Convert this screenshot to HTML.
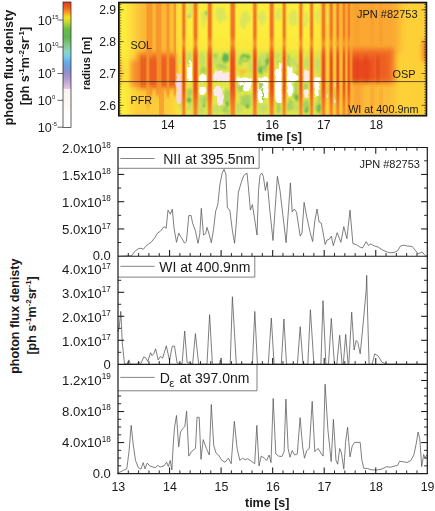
<!DOCTYPE html>
<html><head><meta charset="utf-8"><title>JPN #82753 photon flux density</title>
<style>
html,body{margin:0;padding:0;background:#fff;}
body{width:435px;height:511px;overflow:hidden;}
svg{display:block;font-family:"Liberation Sans",sans-serif;fill:#1a1a1a;}
</style></head><body>
<svg width="435" height="511" viewBox="0 0 435 511">
<rect x="0" y="0" width="435" height="511" fill="#ffffff"/>
<defs>
<clipPath id="hc"><rect x="118.85" y="2.55" width="307.6" height="113.15"/></clipPath>
<filter id="b1" x="-50%" y="-50%" width="200%" height="200%"><feGaussianBlur stdDeviation="0.7 2.2"/></filter>
<filter id="b2" x="-50%" y="-50%" width="200%" height="200%"><feGaussianBlur stdDeviation="2.5"/></filter>
<filter id="b3" x="-50%" y="-50%" width="200%" height="200%"><feGaussianBlur stdDeviation="1.1"/></filter>
<filter id="b4" x="-50%" y="-50%" width="200%" height="200%"><feGaussianBlur stdDeviation="4"/></filter>
<filter id="b6" x="-50%" y="-50%" width="200%" height="200%"><feGaussianBlur stdDeviation="0.75 2.5"/></filter>
<filter id="rw" x="-20%" y="-20%" width="140%" height="140%"><feTurbulence type="fractalNoise" baseFrequency="0.22 0.16" numOctaves="2" seed="7" result="n"/><feDisplacementMap in="SourceGraphic" in2="n" scale="5" xChannelSelector="R" yChannelSelector="G"/><feGaussianBlur stdDeviation="0.45"/></filter>
<filter id="rg" x="-20%" y="-20%" width="140%" height="140%"><feTurbulence type="fractalNoise" baseFrequency="0.2 0.14" numOctaves="2" seed="3" result="n"/><feDisplacementMap in="SourceGraphic" in2="n" scale="7" xChannelSelector="R" yChannelSelector="G"/><feGaussianBlur stdDeviation="0.9"/></filter>
<filter id="b5" x="-50%" y="-50%" width="200%" height="200%"><feGaussianBlur stdDeviation="0.6"/></filter>
<linearGradient id="sg" gradientUnits="userSpaceOnUse" x1="0" y1="2" x2="0" y2="116">
<stop offset="0" stop-color="#f07826"/><stop offset="0.31" stop-color="#ee7224"/><stop offset="0.36" stop-color="#f6982c"/><stop offset="0.42" stop-color="#ee6a22"/><stop offset="0.5" stop-color="#e8501e"/><stop offset="0.76" stop-color="#e8501e"/><stop offset="0.88" stop-color="#f07426"/><stop offset="1" stop-color="#f48a2a"/>
</linearGradient>
<linearGradient id="sg2" gradientUnits="userSpaceOnUse" x1="0" y1="2" x2="0" y2="116">
<stop offset="0" stop-color="#f48a2a"/><stop offset="0.31" stop-color="#f38428"/><stop offset="0.36" stop-color="#f9ac34"/><stop offset="0.43" stop-color="#f27c28"/><stop offset="0.78" stop-color="#f17626"/><stop offset="0.9" stop-color="#f58c2a"/><stop offset="1" stop-color="#f7982e"/>
</linearGradient>
<linearGradient id="cb" x1="0" y1="0" x2="0" y2="1">
<stop offset="0.0000" stop-color="#e03a1c"/><stop offset="0.0464" stop-color="#ee6420"/><stop offset="0.0886" stop-color="#f9a624"/><stop offset="0.1203" stop-color="#f8e020"/><stop offset="0.1624" stop-color="#c0d838"/><stop offset="0.2152" stop-color="#6cbc44"/><stop offset="0.2785" stop-color="#5cb650"/><stop offset="0.3418" stop-color="#84c888"/><stop offset="0.3945" stop-color="#8cd4c4"/><stop offset="0.4367" stop-color="#78cce8"/><stop offset="0.4789" stop-color="#62aee6"/><stop offset="0.5316" stop-color="#7a94d4"/><stop offset="0.5844" stop-color="#a090cc"/><stop offset="0.6371" stop-color="#c4a8d8"/><stop offset="0.6878" stop-color="#e4c4e0"/><stop offset="0.6962" stop-color="#fbf2ee"/><stop offset="0.8270" stop-color="#fdf8f6"/><stop offset="0.8903" stop-color="#ffffff"/><stop offset="1.0000" stop-color="#ffffff"/>
</linearGradient>
</defs>
<g clip-path="url(#hc)">
<rect x="118.85" y="2.55" width="307.6" height="113.15" fill="#fdee3e"/>
<g filter="url(#b4)">
<rect x="130" y="-8" width="12" height="134" fill="#fcd03a"/>
<rect x="139" y="-8" width="37" height="100" fill="#fbb634"/>
<rect x="137" y="92" width="39" height="34" fill="#fccc3a"/>
<rect x="322" y="-8" width="30" height="134" fill="#fcc838" opacity="0.75"/>
<rect x="340" y="-8" width="60" height="62" fill="#faa832"/>
<rect x="344" y="50" width="54" height="80" fill="#fcbe38"/>
<rect x="400" y="-8" width="32" height="134" fill="#fdd038"/>
<rect x="112" y="60" width="8" height="24" fill="#f58a28"/>
<rect x="178" y="41" width="165" height="4.5" fill="#fdd23a" opacity="0.4"/>
</g>
<g filter="url(#b2)">
<rect x="131" y="60" width="12" height="27" fill="#f59030"/>
<rect x="138" y="53" width="38" height="35" fill="#f17c28"/>
<rect x="350.5" y="48" width="44" height="35" fill="#f37428"/>
<rect x="351" y="53" width="38" height="29" fill="#ee6022"/>
<rect x="351.5" y="59" width="21" height="22" fill="#e8481e"/>
<rect x="353" y="84" width="10" height="24" fill="#f8a030" opacity="0.8"/>
<rect x="370" y="84" width="5" height="22" fill="#f9aa32" opacity="0.7"/>
<rect x="423.5" y="41" width="4" height="20" fill="#ea4e1e"/>
</g>
<g filter="url(#b1)">
<rect x="146.4" y="-4" width="6" height="100" fill="#f6922c" opacity="0.85"/>
<rect x="155.85" y="-4" width="5.5" height="100" fill="#f6922c" opacity="0.85"/>
<rect x="166.4" y="-4" width="3" height="100" fill="#f6922c" opacity="0.85"/>
<rect x="173.60000000000002" y="-4" width="2.4" height="100" fill="#f6922c" opacity="0.85"/>
<rect x="159" y="88" width="5" height="34" fill="#f79a2e" opacity="0.8"/>
<rect x="146" y="88" width="4" height="20" fill="#f9a832" opacity="0.6"/>
<rect x="140.5" y="57" width="5.7" height="29" fill="#ea6022"/>
<rect x="149.4" y="57" width="7.2" height="29" fill="#ea6022"/>
<rect x="161.5" y="57" width="4.8" height="29" fill="#ea6022"/>
<rect x="169.5" y="57" width="5.7" height="29" fill="#ea6022"/>
<rect x="354.5" y="-4" width="5" height="48" fill="#f79a2e" opacity="0.5"/>
<rect x="354.5" y="88" width="5" height="34" fill="#f8a030" opacity="0.45"/>
<rect x="370.25" y="-4" width="3.5" height="48" fill="#f79a2e" opacity="0.5"/>
<rect x="370.25" y="88" width="3.5" height="34" fill="#f8a030" opacity="0.45"/>
<rect x="379.0" y="-4" width="4" height="48" fill="#f79a2e" opacity="0.5"/>
<rect x="379.0" y="88" width="4" height="34" fill="#f8a030" opacity="0.45"/>
<rect x="353.0" y="56" width="6" height="25" fill="#e6461c" opacity="0.55"/>
<rect x="363.5" y="56" width="5" height="25" fill="#e6461c" opacity="0.55"/>
<rect x="376.0" y="56" width="4" height="25" fill="#e6461c" opacity="0.55"/>
</g>
<rect x="186" y="50" width="137" height="70" fill="#b4da5c" opacity="0.38" filter="url(#b2)"/>
<g filter="url(#rg)">
<ellipse cx="189.5" cy="58" rx="2.5" ry="6" fill="#c4de66"/>
<ellipse cx="190" cy="92" rx="3" ry="5" fill="#a6d25e"/>
<ellipse cx="189" cy="106" rx="3" ry="6" fill="#c4de66"/>
<ellipse cx="190.5" cy="17" rx="1.2" ry="3" fill="#62c0a0"/>
<ellipse cx="190" cy="10" rx="2.5" ry="6" fill="#dbe65a"/>
<ellipse cx="202" cy="60" rx="3.5" ry="8" fill="#c4de66"/>
<ellipse cx="203" cy="70" rx="3" ry="3" fill="#a6d25e"/>
<ellipse cx="204" cy="100" rx="3.5" ry="5" fill="#a6d25e"/>
<ellipse cx="201" cy="110" rx="3" ry="4" fill="#c4de66"/>
<ellipse cx="203" cy="20" rx="3" ry="9" fill="#dbe65a"/>
<ellipse cx="206.5" cy="14" rx="1.5" ry="2" fill="#7cc65c"/>
<ellipse cx="217" cy="62" rx="3.5" ry="6" fill="#c4de66"/>
<ellipse cx="225.5" cy="59" rx="2.8" ry="4.8" fill="#58b552"/>
<ellipse cx="222" cy="67" rx="5" ry="3" fill="#a6d25e"/>
<ellipse cx="227" cy="96" rx="3.5" ry="7" fill="#a6d25e"/>
<ellipse cx="217" cy="109" rx="4" ry="4.5" fill="#c4de66"/>
<ellipse cx="226" cy="109" rx="3.5" ry="4" fill="#a6d25e"/>
<ellipse cx="221" cy="15" rx="5" ry="8" fill="#dbe65a"/>
<ellipse cx="225" cy="54.5" rx="3" ry="2" fill="#58b552"/>
<ellipse cx="245.5" cy="57.5" rx="4.5" ry="4" fill="#58b552"/>
<ellipse cx="245.5" cy="58.5" rx="2.2" ry="1.8" fill="#e8e84c"/>
<ellipse cx="243" cy="71" rx="3.7" ry="2.8" fill="#fbc030"/>
<ellipse cx="240" cy="88" rx="3" ry="5" fill="#a6d25e"/>
<ellipse cx="246" cy="100" rx="5" ry="6" fill="#a6d25e"/>
<ellipse cx="239" cy="108" rx="3" ry="5" fill="#c4de66"/>
<ellipse cx="250" cy="66" rx="2.5" ry="6" fill="#c4de66"/>
<ellipse cx="245" cy="20" rx="5" ry="9" fill="#dbe65a"/>
<ellipse cx="262" cy="60" rx="4.5" ry="6" fill="#c4de66"/>
<ellipse cx="265" cy="68" rx="3" ry="4" fill="#a6d25e"/>
<ellipse cx="260" cy="70" rx="2" ry="5" fill="#58b552"/>
<ellipse cx="262" cy="90" rx="3" ry="4.5" fill="#a6d25e"/>
<ellipse cx="263" cy="108" rx="5" ry="5" fill="#c4de66"/>
<ellipse cx="262" cy="18" rx="4" ry="8" fill="#dbe65a"/>
<ellipse cx="277" cy="58" rx="2.5" ry="5" fill="#c4de66"/>
<ellipse cx="278.5" cy="108" rx="3" ry="5" fill="#a6d25e"/>
<ellipse cx="278" cy="15" rx="3" ry="7" fill="#dbe65a"/>
<ellipse cx="294" cy="62" rx="4" ry="5" fill="#c4de66"/>
<ellipse cx="296" cy="90" rx="3" ry="7" fill="#a6d25e"/>
<ellipse cx="290" cy="104" rx="3.5" ry="7" fill="#a6d25e"/>
<ellipse cx="296" cy="107" rx="3" ry="5" fill="#c4de66"/>
<ellipse cx="293" cy="18" rx="4.5" ry="8" fill="#dbe65a"/>
<ellipse cx="306.5" cy="62" rx="2.8" ry="6" fill="#c4de66"/>
<ellipse cx="306" cy="85" rx="2.5" ry="3.5" fill="#a6d25e"/>
<ellipse cx="306" cy="106" rx="3" ry="6" fill="#a6d25e"/>
<ellipse cx="306" cy="20" rx="2.5" ry="8" fill="#dbe65a"/>
<ellipse cx="317.5" cy="66" rx="3" ry="8" fill="#c4de66"/>
<ellipse cx="319.5" cy="100" rx="2" ry="9" fill="#a6d25e"/>
<ellipse cx="316" cy="106" rx="2.2" ry="5" fill="#c4de66"/>
<ellipse cx="317.5" cy="16" rx="2.5" ry="8" fill="#dbe65a"/>
<ellipse cx="327" cy="92" rx="0.9" ry="12" fill="#a6d25e"/>
<ellipse cx="335" cy="95" rx="0.9" ry="14" fill="#a6d25e"/>
<ellipse cx="327.5" cy="18" rx="1.2" ry="9" fill="#dbe65a"/>
<ellipse cx="181" cy="106" rx="1.8" ry="6" fill="#c4de66"/>
<ellipse cx="180" cy="60" rx="1.6" ry="6" fill="#c4de66"/>
<ellipse cx="189" cy="100" rx="2.5" ry="3" fill="#58b552"/>
<ellipse cx="203.5" cy="106" rx="2" ry="2.5" fill="#58b552"/>
<ellipse cx="227.5" cy="103" rx="1.8" ry="3" fill="#58b552"/>
<ellipse cx="247.5" cy="106" rx="2" ry="2.5" fill="#58b552"/>
<ellipse cx="263" cy="96" rx="1.5" ry="3" fill="#58b552"/>
<ellipse cx="279" cy="64" rx="1.5" ry="3" fill="#a6d25e"/>
<ellipse cx="297" cy="98" rx="1.5" ry="4" fill="#58b552"/>
<ellipse cx="306" cy="110" rx="1.6" ry="2.5" fill="#58b552"/>
<ellipse cx="319.5" cy="108" rx="1.2" ry="4" fill="#58b552"/>
<ellipse cx="216" cy="55" rx="3" ry="3" fill="#a6d25e"/>
<ellipse cx="240" cy="62" rx="2.5" ry="4" fill="#a6d25e"/>
<ellipse cx="252" cy="100" rx="2" ry="8" fill="#c4de66"/>
<ellipse cx="199.5" cy="100" rx="1.5" ry="6" fill="#c4de66"/>
<ellipse cx="288.5" cy="60" rx="1.8" ry="5" fill="#a6d25e"/>
<ellipse cx="298" cy="70" rx="1.5" ry="5" fill="#a6d25e"/>
<ellipse cx="258.5" cy="64" rx="1.5" ry="7" fill="#a6d25e"/>
<ellipse cx="268" cy="62" rx="1.2" ry="8" fill="#58b552"/>
</g>
<g filter="url(#rw)">
<rect x="176.5" y="73" width="5.1" height="30.0" rx="1.8" fill="#f4d6e6"/>
<rect x="187.2" y="66" width="5.1" height="15.4" rx="1.8" fill="#ffffff"/>
<rect x="189.3" y="60" width="2.0" height="8.0" rx="0.7" fill="#ffffff"/>
<rect x="199" y="75" width="8.0" height="6.4" rx="2.2" fill="#ffffff"/>
<rect x="199.2" y="86.8" width="6.6" height="7.2" rx="2.3" fill="#ffffff"/>
<rect x="212.9" y="72.5" width="17.1" height="8.9" rx="3.1" fill="#faeaf0"/>
<rect x="215" y="70.5" width="7.0" height="3.5" rx="1.2" fill="#faeaf0"/>
<rect x="213.7" y="86" width="8.8" height="10.0" rx="3.1" fill="#faeaf0"/>
<rect x="217" y="94" width="6.8" height="11.0" rx="2.4" fill="#faeaf0"/>
<rect x="236.7" y="77.6" width="16.1" height="3.8" rx="1.3" fill="#ffffff"/>
<rect x="243" y="81.8" width="7.5" height="10.2" rx="2.6" fill="#ffffff"/>
<rect x="238.5" y="81.8" width="4.5" height="4.2" rx="1.5" fill="#ffffff"/>
<rect x="258.3" y="77.6" width="11.0" height="3.8" rx="1.3" fill="#ffffff"/>
<rect x="257.6" y="81.8" width="10.8" height="6.2" rx="2.2" fill="#ffffff"/>
<rect x="257.6" y="88" width="4.4" height="15.0" rx="1.5" fill="#ffffff"/>
<rect x="264" y="88" width="4.4" height="10.0" rx="1.5" fill="#ffffff"/>
<rect x="274.8" y="70" width="7.8" height="11.4" rx="2.7" fill="#ffffff"/>
<rect x="278.8" y="62.5" width="3.6" height="8.5" rx="1.3" fill="#ffffff"/>
<rect x="274.8" y="81.8" width="7.4" height="21.2" rx="2.6" fill="#ffffff"/>
<rect x="286.8" y="74" width="11.9" height="7.4" rx="2.6" fill="#ffffff"/>
<rect x="287.2" y="66.5" width="5.3" height="8.5" rx="1.9" fill="#ffffff"/>
<rect x="286.8" y="81.8" width="6.4" height="14.2" rx="2.2" fill="#ffffff"/>
<rect x="303.3" y="71" width="6.5" height="10.4" rx="2.3" fill="#faeaf0"/>
<rect x="303.3" y="89.5" width="5.5" height="8.3" rx="1.9" fill="#faeaf0"/>
<rect x="313.6" y="77.6" width="8.0" height="3.8" rx="1.3" fill="#ffffff"/>
<rect x="313.6" y="81.8" width="5.8" height="12.2" rx="2.0" fill="#ffffff"/>
<rect x="315" y="94" width="3.0" height="3.0" rx="1.0" fill="#ffffff"/>
<rect x="334.2" y="81" width="3.2" height="6.0" rx="1.1" fill="#faeaf0"/>
<rect x="325.8" y="94" width="1.6" height="4.0" rx="0.6" fill="#faeaf0"/>
<rect x="335" y="99.6" width="2.4" height="3.4" rx="0.8" fill="#faeaf0"/>
<ellipse cx="260.5" cy="86" rx="1.8" ry="3.8" fill="#a6d25e"/>
</g>
<g filter="url(#b6)" opacity="0.55">
<path d="M181.10,-6.0 L181.10,38.0 L181.32,42.5 L181.32,45.0 L180.90,54.0 L180.90,96.0 L181.10,110.0 L181.10,124.0 L186.50,124.0 L186.50,110.0 L186.70,96.0 L186.70,54.0 L186.28,45.0 L186.28,42.5 L186.50,38.0 L186.50,-6.0Z" fill="#f9b030"/>
<path d="M192.45,-6.0 L192.45,38.0 L192.73,42.5 L192.73,45.0 L191.95,54.0 L191.95,96.0 L192.45,110.0 L192.45,124.0 L198.55,124.0 L198.55,110.0 L199.05,96.0 L199.05,54.0 L198.27,45.0 L198.27,42.5 L198.55,38.0 L198.55,-6.0Z" fill="#f9b030"/>
<path d="M206.75,-6.0 L206.75,38.0 L207.03,42.5 L207.03,45.0 L206.25,54.0 L206.25,96.0 L206.75,110.0 L206.75,124.0 L212.85,124.0 L212.85,110.0 L213.35,96.0 L213.35,54.0 L212.57,45.0 L212.57,42.5 L212.85,38.0 L212.85,-6.0Z" fill="#f9b030"/>
<path d="M229.35,-6.0 L229.35,38.0 L229.68,42.5 L229.68,45.0 L228.85,54.0 L228.85,96.0 L229.35,110.0 L229.35,124.0 L236.05,124.0 L236.05,110.0 L236.55,96.0 L236.55,54.0 L235.72,45.0 L235.72,42.5 L236.05,38.0 L236.05,-6.0Z" fill="#f9b030"/>
<path d="M252.10,-6.0 L252.10,38.0 L252.34,42.5 L252.34,45.0 L251.70,54.0 L251.70,96.0 L252.10,110.0 L252.10,124.0 L257.70,124.0 L257.70,110.0 L258.10,96.0 L258.10,54.0 L257.46,45.0 L257.46,42.5 L257.70,38.0 L257.70,-6.0Z" fill="#f9b030"/>
<path d="M268.65,-6.0 L268.65,38.0 L268.93,42.5 L268.93,45.0 L268.25,54.0 L268.25,96.0 L268.65,110.0 L268.65,124.0 L274.75,124.0 L274.75,110.0 L275.15,96.0 L275.15,54.0 L274.47,45.0 L274.47,42.5 L274.75,38.0 L274.75,-6.0Z" fill="#f9b030"/>
<path d="M281.60,-6.0 L281.60,38.0 L281.81,42.5 L281.81,45.0 L281.30,54.0 L281.30,96.0 L281.60,110.0 L281.60,124.0 L286.80,124.0 L286.80,110.0 L287.10,96.0 L287.10,54.0 L286.59,45.0 L286.59,42.5 L286.80,38.0 L286.80,-6.0Z" fill="#f9b030"/>
<path d="M298.30,-6.0 L298.30,38.0 L298.51,42.5 L298.51,45.0 L298.00,54.0 L298.00,96.0 L298.30,110.0 L298.30,124.0 L303.50,124.0 L303.50,110.0 L303.80,96.0 L303.80,54.0 L303.29,45.0 L303.29,42.5 L303.50,38.0 L303.50,-6.0Z" fill="#f9b030"/>
<path d="M309.00,-6.0 L309.00,38.0 L309.21,42.5 L309.21,45.0 L308.80,54.0 L308.80,96.0 L309.00,110.0 L309.00,124.0 L314.20,124.0 L314.20,110.0 L314.40,96.0 L314.40,54.0 L313.99,45.0 L313.99,42.5 L314.20,38.0 L314.20,-6.0Z" fill="#f9b030"/>
<path d="M320.60,-6.0 L320.60,38.0 L320.86,42.5 L320.86,45.0 L320.25,54.0 L320.25,96.0 L320.60,110.0 L320.60,124.0 L326.40,124.0 L326.40,110.0 L326.75,96.0 L326.75,54.0 L326.14,45.0 L326.14,42.5 L326.40,38.0 L326.40,-6.0Z" fill="#f9b030"/>
<path d="M328.45,-6.0 L328.45,38.0 L328.68,42.5 L328.68,45.0 L328.20,54.0 L328.20,96.0 L328.45,110.0 L328.45,124.0 L333.95,124.0 L333.95,110.0 L334.20,96.0 L334.20,54.0 L333.72,45.0 L333.72,42.5 L333.95,38.0 L333.95,-6.0Z" fill="#f9b030"/>
<path d="M335.10,-6.0 L335.10,38.0 L335.32,42.5 L335.32,45.0 L334.90,54.0 L334.90,96.0 L335.10,110.0 L335.10,124.0 L340.50,124.0 L340.50,110.0 L340.70,96.0 L340.70,54.0 L340.28,45.0 L340.28,42.5 L340.50,38.0 L340.50,-6.0Z" fill="#f9b030"/>
<path d="M341.45,-6.0 L341.45,38.0 L341.65,42.5 L341.65,45.0 L341.25,54.0 L341.25,96.0 L341.45,110.0 L341.45,124.0 L346.55,124.0 L346.55,110.0 L346.75,96.0 L346.75,54.0 L346.35,45.0 L346.35,42.5 L346.55,38.0 L346.55,-6.0Z" fill="#f9b030"/>
<path d="M346.35,-6.0 L346.35,38.0 L346.55,42.5 L346.55,45.0 L346.15,54.0 L346.15,96.0 L346.35,110.0 L346.35,124.0 L351.45,124.0 L351.45,110.0 L351.65,96.0 L351.65,54.0 L351.25,45.0 L351.25,42.5 L351.45,38.0 L351.45,-6.0Z" fill="#f9b030"/>
</g>
<g filter="url(#b6)">
<path d="M182.30,-6.0 L182.30,38.0 L182.52,42.5 L182.52,45.0 L182.10,54.0 L182.10,96.0 L182.30,110.0 L182.30,124.0 L185.30,124.0 L185.30,110.0 L185.50,96.0 L185.50,54.0 L185.08,45.0 L185.08,42.5 L185.30,38.0 L185.30,-6.0Z" fill="url(#sg2)"/>
<path d="M193.65,-6.0 L193.65,38.0 L193.93,42.5 L193.93,45.0 L193.15,54.0 L193.15,96.0 L193.65,110.0 L193.65,124.0 L197.35,124.0 L197.35,110.0 L197.85,96.0 L197.85,54.0 L197.07,45.0 L197.07,42.5 L197.35,38.0 L197.35,-6.0Z" fill="url(#sg2)"/>
<path d="M207.95,-6.0 L207.95,38.0 L208.23,42.5 L208.23,45.0 L207.45,54.0 L207.45,96.0 L207.95,110.0 L207.95,124.0 L211.65,124.0 L211.65,110.0 L212.15,96.0 L212.15,54.0 L211.37,45.0 L211.37,42.5 L211.65,38.0 L211.65,-6.0Z" fill="url(#sg2)"/>
<path d="M230.55,-6.0 L230.55,38.0 L230.88,42.5 L230.88,45.0 L230.05,54.0 L230.05,96.0 L230.55,110.0 L230.55,124.0 L234.85,124.0 L234.85,110.0 L235.35,96.0 L235.35,54.0 L234.52,45.0 L234.52,42.5 L234.85,38.0 L234.85,-6.0Z" fill="url(#sg2)"/>
<path d="M253.30,-6.0 L253.30,38.0 L253.54,42.5 L253.54,45.0 L252.90,54.0 L252.90,96.0 L253.30,110.0 L253.30,124.0 L256.50,124.0 L256.50,110.0 L256.90,96.0 L256.90,54.0 L256.26,45.0 L256.26,42.5 L256.50,38.0 L256.50,-6.0Z" fill="url(#sg2)"/>
<path d="M269.85,-6.0 L269.85,38.0 L270.13,42.5 L270.13,45.0 L269.45,54.0 L269.45,96.0 L269.85,110.0 L269.85,124.0 L273.55,124.0 L273.55,110.0 L273.95,96.0 L273.95,54.0 L273.27,45.0 L273.27,42.5 L273.55,38.0 L273.55,-6.0Z" fill="url(#sg2)"/>
<path d="M282.80,-6.0 L282.80,38.0 L283.01,42.5 L283.01,45.0 L282.50,54.0 L282.50,96.0 L282.80,110.0 L282.80,124.0 L285.60,124.0 L285.60,110.0 L285.90,96.0 L285.90,54.0 L285.39,45.0 L285.39,42.5 L285.60,38.0 L285.60,-6.0Z" fill="url(#sg2)"/>
<path d="M299.50,-6.0 L299.50,38.0 L299.71,42.5 L299.71,45.0 L299.20,54.0 L299.20,96.0 L299.50,110.0 L299.50,124.0 L302.30,124.0 L302.30,110.0 L302.60,96.0 L302.60,54.0 L302.09,45.0 L302.09,42.5 L302.30,38.0 L302.30,-6.0Z" fill="url(#sg2)"/>
<path d="M310.20,-6.0 L310.20,38.0 L310.41,42.5 L310.41,45.0 L310.00,54.0 L310.00,96.0 L310.20,110.0 L310.20,124.0 L313.00,124.0 L313.00,110.0 L313.20,96.0 L313.20,54.0 L312.79,45.0 L312.79,42.5 L313.00,38.0 L313.00,-6.0Z" fill="url(#sg2)"/>
<path d="M321.80,-6.0 L321.80,38.0 L322.06,42.5 L322.06,45.0 L321.45,54.0 L321.45,96.0 L321.80,110.0 L321.80,124.0 L325.20,124.0 L325.20,110.0 L325.55,96.0 L325.55,54.0 L324.94,45.0 L324.94,42.5 L325.20,38.0 L325.20,-6.0Z" fill="url(#sg2)"/>
<path d="M329.65,-6.0 L329.65,38.0 L329.88,42.5 L329.88,45.0 L329.40,54.0 L329.40,96.0 L329.65,110.0 L329.65,124.0 L332.75,124.0 L332.75,110.0 L333.00,96.0 L333.00,54.0 L332.52,45.0 L332.52,42.5 L332.75,38.0 L332.75,-6.0Z" fill="url(#sg2)"/>
<path d="M336.30,-6.0 L336.30,38.0 L336.52,42.5 L336.52,45.0 L336.10,54.0 L336.10,96.0 L336.30,110.0 L336.30,124.0 L339.30,124.0 L339.30,110.0 L339.50,96.0 L339.50,54.0 L339.08,45.0 L339.08,42.5 L339.30,38.0 L339.30,-6.0Z" fill="url(#sg2)"/>
<path d="M342.65,-6.0 L342.65,38.0 L342.85,42.5 L342.85,45.0 L342.45,54.0 L342.45,96.0 L342.65,110.0 L342.65,124.0 L345.35,124.0 L345.35,110.0 L345.55,96.0 L345.55,54.0 L345.15,45.0 L345.15,42.5 L345.35,38.0 L345.35,-6.0Z" fill="url(#sg2)"/>
<path d="M347.55,-6.0 L347.55,38.0 L347.75,42.5 L347.75,45.0 L347.35,54.0 L347.35,96.0 L347.55,110.0 L347.55,124.0 L350.25,124.0 L350.25,110.0 L350.45,96.0 L350.45,54.0 L350.05,45.0 L350.05,42.5 L350.25,38.0 L350.25,-6.0Z" fill="url(#sg2)"/>
</g>
<g filter="url(#b6)">
<path d="M183.20,-6.0 L183.20,38.0 L183.42,42.5 L183.42,45.0 L183.00,54.0 L183.00,96.0 L183.20,110.0 L183.20,124.0 L184.40,124.0 L184.40,110.0 L184.60,96.0 L184.60,54.0 L184.18,45.0 L184.18,42.5 L184.40,38.0 L184.40,-6.0Z" fill="url(#sg)"/>
<path d="M194.55,-6.0 L194.55,38.0 L194.83,42.5 L194.83,45.0 L194.05,54.0 L194.05,96.0 L194.55,110.0 L194.55,124.0 L196.45,124.0 L196.45,110.0 L196.95,96.0 L196.95,54.0 L196.17,45.0 L196.17,42.5 L196.45,38.0 L196.45,-6.0Z" fill="url(#sg)"/>
<path d="M208.85,-6.0 L208.85,38.0 L209.13,42.5 L209.13,45.0 L208.35,54.0 L208.35,96.0 L208.85,110.0 L208.85,124.0 L210.75,124.0 L210.75,110.0 L211.25,96.0 L211.25,54.0 L210.47,45.0 L210.47,42.5 L210.75,38.0 L210.75,-6.0Z" fill="url(#sg)"/>
<path d="M231.45,-6.0 L231.45,38.0 L231.78,42.5 L231.78,45.0 L230.95,54.0 L230.95,96.0 L231.45,110.0 L231.45,124.0 L233.95,124.0 L233.95,110.0 L234.45,96.0 L234.45,54.0 L233.62,45.0 L233.62,42.5 L233.95,38.0 L233.95,-6.0Z" fill="url(#sg)"/>
<path d="M254.20,-6.0 L254.20,38.0 L254.44,42.5 L254.44,45.0 L253.80,54.0 L253.80,96.0 L254.20,110.0 L254.20,124.0 L255.60,124.0 L255.60,110.0 L256.00,96.0 L256.00,54.0 L255.36,45.0 L255.36,42.5 L255.60,38.0 L255.60,-6.0Z" fill="url(#sg)"/>
<path d="M270.75,-6.0 L270.75,38.0 L271.03,42.5 L271.03,45.0 L270.35,54.0 L270.35,96.0 L270.75,110.0 L270.75,124.0 L272.65,124.0 L272.65,110.0 L273.05,96.0 L273.05,54.0 L272.37,45.0 L272.37,42.5 L272.65,38.0 L272.65,-6.0Z" fill="url(#sg)"/>
<path d="M283.70,-6.0 L283.70,38.0 L283.91,42.5 L283.91,45.0 L283.40,54.0 L283.40,96.0 L283.70,110.0 L283.70,124.0 L284.70,124.0 L284.70,110.0 L285.00,96.0 L285.00,54.0 L284.49,45.0 L284.49,42.5 L284.70,38.0 L284.70,-6.0Z" fill="url(#sg)"/>
<path d="M300.40,-6.0 L300.40,38.0 L300.61,42.5 L300.61,45.0 L300.10,54.0 L300.10,96.0 L300.40,110.0 L300.40,124.0 L301.40,124.0 L301.40,110.0 L301.70,96.0 L301.70,54.0 L301.19,45.0 L301.19,42.5 L301.40,38.0 L301.40,-6.0Z" fill="url(#sg)"/>
<path d="M311.10,-6.0 L311.10,38.0 L311.31,42.5 L311.31,45.0 L310.90,54.0 L310.90,96.0 L311.10,110.0 L311.10,124.0 L312.10,124.0 L312.10,110.0 L312.30,96.0 L312.30,54.0 L311.89,45.0 L311.89,42.5 L312.10,38.0 L312.10,-6.0Z" fill="url(#sg)"/>
<path d="M322.70,-6.0 L322.70,38.0 L322.96,42.5 L322.96,45.0 L322.35,54.0 L322.35,96.0 L322.70,110.0 L322.70,124.0 L324.30,124.0 L324.30,110.0 L324.65,96.0 L324.65,54.0 L324.04,45.0 L324.04,42.5 L324.30,38.0 L324.30,-6.0Z" fill="url(#sg)"/>
<path d="M330.55,-6.0 L330.55,38.0 L330.78,42.5 L330.78,45.0 L330.30,54.0 L330.30,96.0 L330.55,110.0 L330.55,124.0 L331.85,124.0 L331.85,110.0 L332.10,96.0 L332.10,54.0 L331.62,45.0 L331.62,42.5 L331.85,38.0 L331.85,-6.0Z" fill="url(#sg)"/>
<path d="M337.20,-6.0 L337.20,38.0 L337.42,42.5 L337.42,45.0 L337.00,54.0 L337.00,96.0 L337.20,110.0 L337.20,124.0 L338.40,124.0 L338.40,110.0 L338.60,96.0 L338.60,54.0 L338.18,45.0 L338.18,42.5 L338.40,38.0 L338.40,-6.0Z" fill="url(#sg)"/>
<path d="M343.55,-6.0 L343.55,38.0 L343.75,42.5 L343.75,45.0 L343.35,54.0 L343.35,96.0 L343.55,110.0 L343.55,124.0 L344.45,124.0 L344.45,110.0 L344.65,96.0 L344.65,54.0 L344.25,45.0 L344.25,42.5 L344.45,38.0 L344.45,-6.0Z" fill="url(#sg)"/>
<path d="M348.45,-6.0 L348.45,38.0 L348.65,42.5 L348.65,45.0 L348.25,54.0 L348.25,96.0 L348.45,110.0 L348.45,124.0 L349.35,124.0 L349.35,110.0 L349.55,96.0 L349.55,54.0 L349.15,45.0 L349.15,42.5 L349.35,38.0 L349.35,-6.0Z" fill="url(#sg)"/>
</g>
</g>
<line x1="118.85" y1="81.6" x2="426.45" y2="81.6" stroke="#3a2a10" stroke-width="0.8"/>
<rect x="118.85" y="2.55" width="307.6" height="113.15" fill="none" stroke="#141414" stroke-width="1.7"/>
<line x1="118.85" y1="9.8" x2="123.64999999999999" y2="9.8" stroke="#4a3a10" stroke-width="0.8"/>
<line x1="426.45" y1="9.8" x2="421.65" y2="9.8" stroke="#4a3a10" stroke-width="0.8"/>
<text x="116.1" y="14.200000000000001" font-size="12.2" text-anchor="end">2.9</text>
<line x1="118.85" y1="41.65" x2="123.64999999999999" y2="41.65" stroke="#4a3a10" stroke-width="0.8"/>
<line x1="426.45" y1="41.65" x2="421.65" y2="41.65" stroke="#4a3a10" stroke-width="0.8"/>
<text x="116.1" y="46.05" font-size="12.2" text-anchor="end">2.8</text>
<line x1="118.85" y1="73.5" x2="123.64999999999999" y2="73.5" stroke="#4a3a10" stroke-width="0.8"/>
<line x1="426.45" y1="73.5" x2="421.65" y2="73.5" stroke="#4a3a10" stroke-width="0.8"/>
<text x="116.1" y="77.9" font-size="12.2" text-anchor="end">2.7</text>
<line x1="118.85" y1="105.35" x2="123.64999999999999" y2="105.35" stroke="#4a3a10" stroke-width="0.8"/>
<line x1="426.45" y1="105.35" x2="421.65" y2="105.35" stroke="#4a3a10" stroke-width="0.8"/>
<text x="116.1" y="109.75" font-size="12.2" text-anchor="end">2.6</text>
<line x1="118.85" y1="113.31" x2="121.25" y2="113.31" stroke="#3a2a10" stroke-width="0.6"/>
<line x1="426.45" y1="113.31" x2="424.05" y2="113.31" stroke="#3a2a10" stroke-width="0.6"/>
<line x1="118.85" y1="110.66" x2="121.25" y2="110.66" stroke="#3a2a10" stroke-width="0.6"/>
<line x1="426.45" y1="110.66" x2="424.05" y2="110.66" stroke="#3a2a10" stroke-width="0.6"/>
<line x1="118.85" y1="108.00" x2="121.25" y2="108.00" stroke="#3a2a10" stroke-width="0.6"/>
<line x1="426.45" y1="108.00" x2="424.05" y2="108.00" stroke="#3a2a10" stroke-width="0.6"/>
<line x1="118.85" y1="105.35" x2="121.25" y2="105.35" stroke="#3a2a10" stroke-width="0.6"/>
<line x1="426.45" y1="105.35" x2="424.05" y2="105.35" stroke="#3a2a10" stroke-width="0.6"/>
<line x1="118.85" y1="102.70" x2="121.25" y2="102.70" stroke="#3a2a10" stroke-width="0.6"/>
<line x1="426.45" y1="102.70" x2="424.05" y2="102.70" stroke="#3a2a10" stroke-width="0.6"/>
<line x1="118.85" y1="100.04" x2="121.25" y2="100.04" stroke="#3a2a10" stroke-width="0.6"/>
<line x1="426.45" y1="100.04" x2="424.05" y2="100.04" stroke="#3a2a10" stroke-width="0.6"/>
<line x1="118.85" y1="97.39" x2="121.25" y2="97.39" stroke="#3a2a10" stroke-width="0.6"/>
<line x1="426.45" y1="97.39" x2="424.05" y2="97.39" stroke="#3a2a10" stroke-width="0.6"/>
<line x1="118.85" y1="94.73" x2="121.25" y2="94.73" stroke="#3a2a10" stroke-width="0.6"/>
<line x1="426.45" y1="94.73" x2="424.05" y2="94.73" stroke="#3a2a10" stroke-width="0.6"/>
<line x1="118.85" y1="92.08" x2="121.25" y2="92.08" stroke="#3a2a10" stroke-width="0.6"/>
<line x1="426.45" y1="92.08" x2="424.05" y2="92.08" stroke="#3a2a10" stroke-width="0.6"/>
<line x1="118.85" y1="89.43" x2="121.25" y2="89.43" stroke="#3a2a10" stroke-width="0.6"/>
<line x1="426.45" y1="89.43" x2="424.05" y2="89.43" stroke="#3a2a10" stroke-width="0.6"/>
<line x1="118.85" y1="86.77" x2="121.25" y2="86.77" stroke="#3a2a10" stroke-width="0.6"/>
<line x1="426.45" y1="86.77" x2="424.05" y2="86.77" stroke="#3a2a10" stroke-width="0.6"/>
<line x1="118.85" y1="84.12" x2="121.25" y2="84.12" stroke="#3a2a10" stroke-width="0.6"/>
<line x1="426.45" y1="84.12" x2="424.05" y2="84.12" stroke="#3a2a10" stroke-width="0.6"/>
<line x1="118.85" y1="81.46" x2="121.25" y2="81.46" stroke="#3a2a10" stroke-width="0.6"/>
<line x1="426.45" y1="81.46" x2="424.05" y2="81.46" stroke="#3a2a10" stroke-width="0.6"/>
<line x1="118.85" y1="78.81" x2="121.25" y2="78.81" stroke="#3a2a10" stroke-width="0.6"/>
<line x1="426.45" y1="78.81" x2="424.05" y2="78.81" stroke="#3a2a10" stroke-width="0.6"/>
<line x1="118.85" y1="76.16" x2="121.25" y2="76.16" stroke="#3a2a10" stroke-width="0.6"/>
<line x1="426.45" y1="76.16" x2="424.05" y2="76.16" stroke="#3a2a10" stroke-width="0.6"/>
<line x1="118.85" y1="73.50" x2="121.25" y2="73.50" stroke="#3a2a10" stroke-width="0.6"/>
<line x1="426.45" y1="73.50" x2="424.05" y2="73.50" stroke="#3a2a10" stroke-width="0.6"/>
<line x1="118.85" y1="70.85" x2="121.25" y2="70.85" stroke="#3a2a10" stroke-width="0.6"/>
<line x1="426.45" y1="70.85" x2="424.05" y2="70.85" stroke="#3a2a10" stroke-width="0.6"/>
<line x1="118.85" y1="68.19" x2="121.25" y2="68.19" stroke="#3a2a10" stroke-width="0.6"/>
<line x1="426.45" y1="68.19" x2="424.05" y2="68.19" stroke="#3a2a10" stroke-width="0.6"/>
<line x1="118.85" y1="65.54" x2="121.25" y2="65.54" stroke="#3a2a10" stroke-width="0.6"/>
<line x1="426.45" y1="65.54" x2="424.05" y2="65.54" stroke="#3a2a10" stroke-width="0.6"/>
<line x1="118.85" y1="62.89" x2="121.25" y2="62.89" stroke="#3a2a10" stroke-width="0.6"/>
<line x1="426.45" y1="62.89" x2="424.05" y2="62.89" stroke="#3a2a10" stroke-width="0.6"/>
<line x1="118.85" y1="60.23" x2="121.25" y2="60.23" stroke="#3a2a10" stroke-width="0.6"/>
<line x1="426.45" y1="60.23" x2="424.05" y2="60.23" stroke="#3a2a10" stroke-width="0.6"/>
<line x1="118.85" y1="57.58" x2="121.25" y2="57.58" stroke="#3a2a10" stroke-width="0.6"/>
<line x1="426.45" y1="57.58" x2="424.05" y2="57.58" stroke="#3a2a10" stroke-width="0.6"/>
<line x1="118.85" y1="54.92" x2="121.25" y2="54.92" stroke="#3a2a10" stroke-width="0.6"/>
<line x1="426.45" y1="54.92" x2="424.05" y2="54.92" stroke="#3a2a10" stroke-width="0.6"/>
<line x1="118.85" y1="52.27" x2="121.25" y2="52.27" stroke="#3a2a10" stroke-width="0.6"/>
<line x1="426.45" y1="52.27" x2="424.05" y2="52.27" stroke="#3a2a10" stroke-width="0.6"/>
<line x1="118.85" y1="49.62" x2="121.25" y2="49.62" stroke="#3a2a10" stroke-width="0.6"/>
<line x1="426.45" y1="49.62" x2="424.05" y2="49.62" stroke="#3a2a10" stroke-width="0.6"/>
<line x1="118.85" y1="46.96" x2="121.25" y2="46.96" stroke="#3a2a10" stroke-width="0.6"/>
<line x1="426.45" y1="46.96" x2="424.05" y2="46.96" stroke="#3a2a10" stroke-width="0.6"/>
<line x1="118.85" y1="44.31" x2="121.25" y2="44.31" stroke="#3a2a10" stroke-width="0.6"/>
<line x1="426.45" y1="44.31" x2="424.05" y2="44.31" stroke="#3a2a10" stroke-width="0.6"/>
<line x1="118.85" y1="41.65" x2="121.25" y2="41.65" stroke="#3a2a10" stroke-width="0.6"/>
<line x1="426.45" y1="41.65" x2="424.05" y2="41.65" stroke="#3a2a10" stroke-width="0.6"/>
<line x1="118.85" y1="39.00" x2="121.25" y2="39.00" stroke="#3a2a10" stroke-width="0.6"/>
<line x1="426.45" y1="39.00" x2="424.05" y2="39.00" stroke="#3a2a10" stroke-width="0.6"/>
<line x1="118.85" y1="36.35" x2="121.25" y2="36.35" stroke="#3a2a10" stroke-width="0.6"/>
<line x1="426.45" y1="36.35" x2="424.05" y2="36.35" stroke="#3a2a10" stroke-width="0.6"/>
<line x1="118.85" y1="33.69" x2="121.25" y2="33.69" stroke="#3a2a10" stroke-width="0.6"/>
<line x1="426.45" y1="33.69" x2="424.05" y2="33.69" stroke="#3a2a10" stroke-width="0.6"/>
<line x1="118.85" y1="31.04" x2="121.25" y2="31.04" stroke="#3a2a10" stroke-width="0.6"/>
<line x1="426.45" y1="31.04" x2="424.05" y2="31.04" stroke="#3a2a10" stroke-width="0.6"/>
<line x1="118.85" y1="28.38" x2="121.25" y2="28.38" stroke="#3a2a10" stroke-width="0.6"/>
<line x1="426.45" y1="28.38" x2="424.05" y2="28.38" stroke="#3a2a10" stroke-width="0.6"/>
<line x1="118.85" y1="25.73" x2="121.25" y2="25.73" stroke="#3a2a10" stroke-width="0.6"/>
<line x1="426.45" y1="25.73" x2="424.05" y2="25.73" stroke="#3a2a10" stroke-width="0.6"/>
<line x1="118.85" y1="23.08" x2="121.25" y2="23.08" stroke="#3a2a10" stroke-width="0.6"/>
<line x1="426.45" y1="23.08" x2="424.05" y2="23.08" stroke="#3a2a10" stroke-width="0.6"/>
<line x1="118.85" y1="20.42" x2="121.25" y2="20.42" stroke="#3a2a10" stroke-width="0.6"/>
<line x1="426.45" y1="20.42" x2="424.05" y2="20.42" stroke="#3a2a10" stroke-width="0.6"/>
<line x1="118.85" y1="17.77" x2="121.25" y2="17.77" stroke="#3a2a10" stroke-width="0.6"/>
<line x1="426.45" y1="17.77" x2="424.05" y2="17.77" stroke="#3a2a10" stroke-width="0.6"/>
<line x1="118.85" y1="15.11" x2="121.25" y2="15.11" stroke="#3a2a10" stroke-width="0.6"/>
<line x1="426.45" y1="15.11" x2="424.05" y2="15.11" stroke="#3a2a10" stroke-width="0.6"/>
<line x1="118.85" y1="12.46" x2="121.25" y2="12.46" stroke="#3a2a10" stroke-width="0.6"/>
<line x1="426.45" y1="12.46" x2="424.05" y2="12.46" stroke="#3a2a10" stroke-width="0.6"/>
<line x1="118.85" y1="9.81" x2="121.25" y2="9.81" stroke="#3a2a10" stroke-width="0.6"/>
<line x1="426.45" y1="9.81" x2="424.05" y2="9.81" stroke="#3a2a10" stroke-width="0.6"/>
<line x1="118.85" y1="7.15" x2="121.25" y2="7.15" stroke="#3a2a10" stroke-width="0.6"/>
<line x1="426.45" y1="7.15" x2="424.05" y2="7.15" stroke="#3a2a10" stroke-width="0.6"/>
<line x1="118.85" y1="4.50" x2="121.25" y2="4.50" stroke="#3a2a10" stroke-width="0.6"/>
<line x1="426.45" y1="4.50" x2="424.05" y2="4.50" stroke="#3a2a10" stroke-width="0.6"/>
<text x="167.8" y="128.8" font-size="12.2" text-anchor="middle">14</text>
<text x="219.4" y="128.8" font-size="12.2" text-anchor="middle">15</text>
<text x="272.2" y="128.8" font-size="12.2" text-anchor="middle">16</text>
<text x="323.7" y="128.8" font-size="12.2" text-anchor="middle">17</text>
<text x="376.3" y="128.8" font-size="12.2" text-anchor="middle">18</text>
<text x="279.6" y="140.9" font-size="12.6" font-weight="bold" text-anchor="middle">time [s]</text>
<text x="130.5" y="49.2" font-size="10.8">SOL</text>
<text x="130.5" y="104.4" font-size="10.8">PFR</text>
<text x="357" y="18.2" font-size="11">JPN #82753</text>
<text x="392.6" y="78.2" font-size="10.9">OSP</text>
<text x="418.4" y="113" font-size="10.8" text-anchor="end">WI at 400.9nm</text>
<text transform="translate(90.3,63.5) rotate(-90)" font-size="11" font-weight="bold" text-anchor="middle">radius [m]</text>
<rect x="63" y="2" width="8" height="125.5" fill="url(#cb)" stroke="#222" stroke-width="0.7"/>
<line x1="57.5" y1="20" x2="63" y2="20" stroke="#222" stroke-width="0.7"/>
<text x="37.8" y="24.5" font-size="12.7">10<tspan dy="-5.6" font-size="5.8">15</tspan></text>
<line x1="57.5" y1="47" x2="63" y2="47" stroke="#222" stroke-width="0.7"/>
<text x="37.8" y="51.5" font-size="12.7">10<tspan dy="-5.6" font-size="5.8">10</tspan></text>
<line x1="57.5" y1="73.5" x2="63" y2="73.5" stroke="#222" stroke-width="0.7"/>
<text x="37.8" y="78.0" font-size="12.7">10<tspan dy="-5.6" font-size="5.8">5</tspan></text>
<line x1="57.5" y1="100.3" x2="63" y2="100.3" stroke="#222" stroke-width="0.7"/>
<text x="37.8" y="104.8" font-size="12.7">10<tspan dy="-5.6" font-size="5.8">0</tspan></text>
<line x1="57.5" y1="127.2" x2="63" y2="127.2" stroke="#222" stroke-width="0.7"/>
<text x="37.8" y="131.7" font-size="12.7">10<tspan dy="-5.6" font-size="5.8">-5</tspan></text>
<text transform="translate(12.5,67.5) rotate(-90)" font-size="12.5" font-weight="bold" text-anchor="middle">photon flux denisty</text>
<text transform="translate(28.6,66) rotate(-90)" font-size="12.5" font-weight="bold" text-anchor="middle">[ph s<tspan dy="-4.8" font-size="8">-1</tspan><tspan dy="4.8">m</tspan><tspan dy="-4.8" font-size="8">-2</tspan><tspan dy="4.8">sr</tspan><tspan dy="-4.8" font-size="8">-1</tspan><tspan dy="4.8">]</tspan></text>
<polyline points="118.0,256.3 131.8,255.7 134.6,251.5 138.2,248.8 141.0,248.2 143.4,249.3 145.6,246.4 148.3,244.2 151.1,242.3 154.8,237.7 157.5,233.1 160.3,231.3 164.0,226.7 166.2,228.2 168.0,210.1 170.4,214.2 172.3,209.2 174.1,228.5 176.5,242.3 178.7,233.1 181.4,237.7 184.6,243.2 186.4,241.4 188.8,215.7 191.0,215.3 192.6,223.1 195.4,230.7 198.0,243.3 199.8,234.0 201.3,208.3 203.5,235.0 205.7,233.5 207.0,227.4 209.1,234.0 211.3,242.7 213.5,229.6 215.7,211.1 217.8,204.6 220.0,184.0 222.2,173.1 224.1,169.4 225.9,174.2 227.4,207.9 229.8,210.0 232.4,230.7 234.6,243.3 236.3,223.1 238.3,192.7 241.1,182.9 243.9,175.3 247.0,173.1 248.3,186.1 250.4,210.0 252.4,204.6 254.6,218.7 257.0,235.0 258.5,190.5 260.0,175.3 261.7,173.1 263.3,176.3 265.4,190.5 267.2,181.8 269.8,210.0 273.0,240.5 275.2,207.9 277.4,176.3 280.0,190.5 282.8,214.4 286.1,242.7 288.3,212.2 290.4,182.9 292.2,211.8 294.3,209.0 296.5,212.2 300.2,236.1 302.0,232.9 304.1,202.4 306.7,216.6 310.0,231.8 312.6,241.6 314.8,220.9 317.0,209.0 319.1,222.0 321.3,223.1 323.5,235.0 325.2,244.4 327.0,240.0 329.1,239.4 331.3,236.1 333.3,245.7 337.2,232.7 340.9,242.3 343.8,226.7 346.9,238.7 350.0,210.2 352.9,243.5 356.6,244.8 360.2,247.2 362.6,247.9 366.2,241.6 368.6,245.5 370.6,244.0 374.7,246.0 378.3,247.2 383.1,250.3 389.1,252.7 394.0,252.5 397.6,250.8 400.5,246.0 403.6,245.2 407.2,246.0 412.1,246.4 415.7,250.8 418.1,253.9 422.2,252.0 425.3,255.6 427.0,256.3" fill="none" stroke="#545454" stroke-width="0.75" stroke-linejoin="round"/>
<polyline points="118.0,332.0 119.4,326.0 120.8,311.4 122.3,343.0 124.5,363.7 127.1,364.2 128.9,359.9 130.4,364.2 136.5,364.2 138.7,362.1 140.8,363.6 143.7,357.1 145.6,357.5 147.8,361.4 150.6,352.7 152.1,355.6 153.9,353.4 155.6,348.8 158.2,359.9 160.4,356.4 162.6,358.2 166.3,345.8 169.5,360.3 172.3,346.2 174.5,346.2 177.1,363.0 182.1,363.6 184.7,331.0 187.1,362.5 191.9,363.6 192.6,364.2 195.4,333.6 198.7,364.2 207.0,364.2 209.6,314.7 212.4,364.2 219.4,364.2 220.4,359.9 221.4,364.2 230.2,364.2 232.4,296.7 236.3,364.2 252.4,364.2 254.8,311.4 257.4,364.2 268.3,364.2 271.3,318.0 274.1,364.2 281.3,364.2 283.9,319.0 286.5,364.2 297.4,364.2 300.2,326.7 303.0,364.2 307.8,364.2 310.4,309.7 313.9,364.2 320.9,364.2 323.0,300.6 325.9,364.2 328.5,364.2 331.3,318.4 334.4,364.2 336.8,364.2 339.7,335.2 342.1,364.2 343.3,364.2 345.7,334.4 348.1,364.2 348.8,364.2 351.7,312.2 354.1,350.1 356.1,340.5 357.8,342.4 360.2,353.8 363.0,325.0 366.2,290.0 366.7,275.3 367.5,310.0 369.1,364.2 372.2,364.2 374.7,353.8 378.3,356.2 381.9,362.2 386.7,364.2 427.0,364.2" fill="none" stroke="#545454" stroke-width="0.75" stroke-linejoin="miter"/>
<polyline points="118.0,473.0 119.1,472.5 123.5,470.3 126.8,468.8 129.0,451.7 131.2,425.4 133.3,445.1 135.5,460.4 138.2,467.5 141.0,469.2 143.2,462.6 145.0,468.8 147.2,463.1 149.8,465.9 153.1,467.0 155.3,467.7 157.9,465.3 160.1,467.0 164.0,465.9 166.7,462.2 168.4,466.6 170.2,460.4 171.9,469.9 173.2,445.1 174.5,427.6 176.5,415.5 178.7,446.8 180.5,431.9 182.7,428.7 184.8,426.5 186.6,411.1 188.8,456.1 191.4,451.7 195.5,448.4 197.0,417.3 199.2,417.3 201.0,459.3 203.2,439.6 206.4,448.4 209.3,455.0 211.3,404.5 213.7,445.1 215.9,452.8 218.5,455.0 221.8,460.4 225.1,462.2 228.4,458.2 231.2,463.7 234.3,421.4 237.1,448.4 239.8,460.4 242.6,458.2 245.2,459.8 247.4,458.7 250.3,460.4 254.7,463.7 256.8,425.4 259.0,465.9 261.2,456.1 264.5,458.2 266.6,460.4 269.2,455.0 271.0,462.6 273.2,398.4 275.8,453.9 278.6,456.1 281.9,456.5 284.1,451.7 285.9,399.1 288.1,448.4 290.0,457.2 292.2,450.6 294.6,455.0 297.3,453.9 300.1,417.7 302.7,447.3 304.5,458.2 306.7,450.6 309.3,448.4 312.2,401.3 314.8,451.7 318.1,448.4 321.4,453.9 323.1,456.1 325.1,384.2 327.9,429.8 331.2,461.6 333.4,419.4 336.0,460.5 337.7,464.2 339.7,448.5 341.3,452.1 343.8,469.0 345.7,441.2 347.6,427.2 350.0,456.9 352.2,446.1 354.6,442.4 360.2,442.4 361.9,460.5 363.8,468.3 367.4,468.5 371.0,469.7 375.9,470.2 381.9,469.0 386.7,466.6 390.3,467.3 395.2,465.9 397.6,465.4 399.5,461.3 403.6,461.8 407.2,462.5 410.9,460.5 414.0,454.5 416.2,443.7 418.1,432.1 419.8,438.8 421.7,466.6 423.7,454.5 425.3,458.1 427.0,454.5" fill="none" stroke="#545454" stroke-width="0.75" stroke-linejoin="round"/>
<line x1="128.31" y1="256.2" x2="128.31" y2="253.0" stroke="#222" stroke-width="0.95"/>
<line x1="128.31" y1="147.5" x2="128.31" y2="150.7" stroke="#222" stroke-width="0.95"/>
<line x1="138.62" y1="256.2" x2="138.62" y2="253.0" stroke="#222" stroke-width="0.95"/>
<line x1="138.62" y1="147.5" x2="138.62" y2="150.7" stroke="#222" stroke-width="0.95"/>
<line x1="148.93" y1="256.2" x2="148.93" y2="253.0" stroke="#222" stroke-width="0.95"/>
<line x1="148.93" y1="147.5" x2="148.93" y2="150.7" stroke="#222" stroke-width="0.95"/>
<line x1="159.24" y1="256.2" x2="159.24" y2="253.0" stroke="#222" stroke-width="0.95"/>
<line x1="159.24" y1="147.5" x2="159.24" y2="150.7" stroke="#222" stroke-width="0.95"/>
<line x1="169.55" y1="256.2" x2="169.55" y2="250.0" stroke="#222" stroke-width="1.1"/>
<line x1="169.55" y1="147.5" x2="169.55" y2="153.7" stroke="#222" stroke-width="1.1"/>
<line x1="179.86" y1="256.2" x2="179.86" y2="253.0" stroke="#222" stroke-width="0.95"/>
<line x1="179.86" y1="147.5" x2="179.86" y2="150.7" stroke="#222" stroke-width="0.95"/>
<line x1="190.17" y1="256.2" x2="190.17" y2="253.0" stroke="#222" stroke-width="0.95"/>
<line x1="190.17" y1="147.5" x2="190.17" y2="150.7" stroke="#222" stroke-width="0.95"/>
<line x1="200.48" y1="256.2" x2="200.48" y2="253.0" stroke="#222" stroke-width="0.95"/>
<line x1="200.48" y1="147.5" x2="200.48" y2="150.7" stroke="#222" stroke-width="0.95"/>
<line x1="210.79" y1="256.2" x2="210.79" y2="253.0" stroke="#222" stroke-width="0.95"/>
<line x1="210.79" y1="147.5" x2="210.79" y2="150.7" stroke="#222" stroke-width="0.95"/>
<line x1="221.10" y1="256.2" x2="221.10" y2="250.0" stroke="#222" stroke-width="1.1"/>
<line x1="221.10" y1="147.5" x2="221.10" y2="153.7" stroke="#222" stroke-width="1.1"/>
<line x1="231.41" y1="256.2" x2="231.41" y2="253.0" stroke="#222" stroke-width="0.95"/>
<line x1="231.41" y1="147.5" x2="231.41" y2="150.7" stroke="#222" stroke-width="0.95"/>
<line x1="241.72" y1="256.2" x2="241.72" y2="253.0" stroke="#222" stroke-width="0.95"/>
<line x1="241.72" y1="147.5" x2="241.72" y2="150.7" stroke="#222" stroke-width="0.95"/>
<line x1="252.03" y1="256.2" x2="252.03" y2="253.0" stroke="#222" stroke-width="0.95"/>
<line x1="252.03" y1="147.5" x2="252.03" y2="150.7" stroke="#222" stroke-width="0.95"/>
<line x1="262.34" y1="256.2" x2="262.34" y2="253.0" stroke="#222" stroke-width="0.95"/>
<line x1="262.34" y1="147.5" x2="262.34" y2="150.7" stroke="#222" stroke-width="0.95"/>
<line x1="272.65" y1="256.2" x2="272.65" y2="250.0" stroke="#222" stroke-width="1.1"/>
<line x1="272.65" y1="147.5" x2="272.65" y2="153.7" stroke="#222" stroke-width="1.1"/>
<line x1="282.96" y1="256.2" x2="282.96" y2="253.0" stroke="#222" stroke-width="0.95"/>
<line x1="282.96" y1="147.5" x2="282.96" y2="150.7" stroke="#222" stroke-width="0.95"/>
<line x1="293.27" y1="256.2" x2="293.27" y2="253.0" stroke="#222" stroke-width="0.95"/>
<line x1="293.27" y1="147.5" x2="293.27" y2="150.7" stroke="#222" stroke-width="0.95"/>
<line x1="303.58" y1="256.2" x2="303.58" y2="253.0" stroke="#222" stroke-width="0.95"/>
<line x1="303.58" y1="147.5" x2="303.58" y2="150.7" stroke="#222" stroke-width="0.95"/>
<line x1="313.89" y1="256.2" x2="313.89" y2="253.0" stroke="#222" stroke-width="0.95"/>
<line x1="313.89" y1="147.5" x2="313.89" y2="150.7" stroke="#222" stroke-width="0.95"/>
<line x1="324.20" y1="256.2" x2="324.20" y2="250.0" stroke="#222" stroke-width="1.1"/>
<line x1="324.20" y1="147.5" x2="324.20" y2="153.7" stroke="#222" stroke-width="1.1"/>
<line x1="334.51" y1="256.2" x2="334.51" y2="253.0" stroke="#222" stroke-width="0.95"/>
<line x1="334.51" y1="147.5" x2="334.51" y2="150.7" stroke="#222" stroke-width="0.95"/>
<line x1="344.82" y1="256.2" x2="344.82" y2="253.0" stroke="#222" stroke-width="0.95"/>
<line x1="344.82" y1="147.5" x2="344.82" y2="150.7" stroke="#222" stroke-width="0.95"/>
<line x1="355.13" y1="256.2" x2="355.13" y2="253.0" stroke="#222" stroke-width="0.95"/>
<line x1="355.13" y1="147.5" x2="355.13" y2="150.7" stroke="#222" stroke-width="0.95"/>
<line x1="365.44" y1="256.2" x2="365.44" y2="253.0" stroke="#222" stroke-width="0.95"/>
<line x1="365.44" y1="147.5" x2="365.44" y2="150.7" stroke="#222" stroke-width="0.95"/>
<line x1="375.75" y1="256.2" x2="375.75" y2="250.0" stroke="#222" stroke-width="1.1"/>
<line x1="375.75" y1="147.5" x2="375.75" y2="153.7" stroke="#222" stroke-width="1.1"/>
<line x1="386.06" y1="256.2" x2="386.06" y2="253.0" stroke="#222" stroke-width="0.95"/>
<line x1="386.06" y1="147.5" x2="386.06" y2="150.7" stroke="#222" stroke-width="0.95"/>
<line x1="396.37" y1="256.2" x2="396.37" y2="253.0" stroke="#222" stroke-width="0.95"/>
<line x1="396.37" y1="147.5" x2="396.37" y2="150.7" stroke="#222" stroke-width="0.95"/>
<line x1="406.68" y1="256.2" x2="406.68" y2="253.0" stroke="#222" stroke-width="0.95"/>
<line x1="406.68" y1="147.5" x2="406.68" y2="150.7" stroke="#222" stroke-width="0.95"/>
<line x1="416.99" y1="256.2" x2="416.99" y2="253.0" stroke="#222" stroke-width="0.95"/>
<line x1="416.99" y1="147.5" x2="416.99" y2="150.7" stroke="#222" stroke-width="0.95"/>
<line x1="128.31" y1="364.3" x2="128.31" y2="361.1" stroke="#222" stroke-width="0.95"/>
<line x1="138.62" y1="364.3" x2="138.62" y2="361.1" stroke="#222" stroke-width="0.95"/>
<line x1="148.93" y1="364.3" x2="148.93" y2="361.1" stroke="#222" stroke-width="0.95"/>
<line x1="159.24" y1="364.3" x2="159.24" y2="361.1" stroke="#222" stroke-width="0.95"/>
<line x1="169.55" y1="364.3" x2="169.55" y2="358.1" stroke="#222" stroke-width="1.1"/>
<line x1="179.86" y1="364.3" x2="179.86" y2="361.1" stroke="#222" stroke-width="0.95"/>
<line x1="190.17" y1="364.3" x2="190.17" y2="361.1" stroke="#222" stroke-width="0.95"/>
<line x1="200.48" y1="364.3" x2="200.48" y2="361.1" stroke="#222" stroke-width="0.95"/>
<line x1="210.79" y1="364.3" x2="210.79" y2="361.1" stroke="#222" stroke-width="0.95"/>
<line x1="221.10" y1="364.3" x2="221.10" y2="358.1" stroke="#222" stroke-width="1.1"/>
<line x1="231.41" y1="364.3" x2="231.41" y2="361.1" stroke="#222" stroke-width="0.95"/>
<line x1="241.72" y1="364.3" x2="241.72" y2="361.1" stroke="#222" stroke-width="0.95"/>
<line x1="252.03" y1="364.3" x2="252.03" y2="361.1" stroke="#222" stroke-width="0.95"/>
<line x1="262.34" y1="364.3" x2="262.34" y2="361.1" stroke="#222" stroke-width="0.95"/>
<line x1="272.65" y1="364.3" x2="272.65" y2="358.1" stroke="#222" stroke-width="1.1"/>
<line x1="282.96" y1="364.3" x2="282.96" y2="361.1" stroke="#222" stroke-width="0.95"/>
<line x1="293.27" y1="364.3" x2="293.27" y2="361.1" stroke="#222" stroke-width="0.95"/>
<line x1="303.58" y1="364.3" x2="303.58" y2="361.1" stroke="#222" stroke-width="0.95"/>
<line x1="313.89" y1="364.3" x2="313.89" y2="361.1" stroke="#222" stroke-width="0.95"/>
<line x1="324.20" y1="364.3" x2="324.20" y2="358.1" stroke="#222" stroke-width="1.1"/>
<line x1="334.51" y1="364.3" x2="334.51" y2="361.1" stroke="#222" stroke-width="0.95"/>
<line x1="344.82" y1="364.3" x2="344.82" y2="361.1" stroke="#222" stroke-width="0.95"/>
<line x1="355.13" y1="364.3" x2="355.13" y2="361.1" stroke="#222" stroke-width="0.95"/>
<line x1="365.44" y1="364.3" x2="365.44" y2="361.1" stroke="#222" stroke-width="0.95"/>
<line x1="375.75" y1="364.3" x2="375.75" y2="358.1" stroke="#222" stroke-width="1.1"/>
<line x1="386.06" y1="364.3" x2="386.06" y2="361.1" stroke="#222" stroke-width="0.95"/>
<line x1="396.37" y1="364.3" x2="396.37" y2="361.1" stroke="#222" stroke-width="0.95"/>
<line x1="406.68" y1="364.3" x2="406.68" y2="361.1" stroke="#222" stroke-width="0.95"/>
<line x1="416.99" y1="364.3" x2="416.99" y2="361.1" stroke="#222" stroke-width="0.95"/>
<line x1="128.31" y1="473.6" x2="128.31" y2="470.40000000000003" stroke="#222" stroke-width="0.95"/>
<line x1="138.62" y1="473.6" x2="138.62" y2="470.40000000000003" stroke="#222" stroke-width="0.95"/>
<line x1="148.93" y1="473.6" x2="148.93" y2="470.40000000000003" stroke="#222" stroke-width="0.95"/>
<line x1="159.24" y1="473.6" x2="159.24" y2="470.40000000000003" stroke="#222" stroke-width="0.95"/>
<line x1="169.55" y1="473.6" x2="169.55" y2="467.40000000000003" stroke="#222" stroke-width="1.1"/>
<line x1="179.86" y1="473.6" x2="179.86" y2="470.40000000000003" stroke="#222" stroke-width="0.95"/>
<line x1="190.17" y1="473.6" x2="190.17" y2="470.40000000000003" stroke="#222" stroke-width="0.95"/>
<line x1="200.48" y1="473.6" x2="200.48" y2="470.40000000000003" stroke="#222" stroke-width="0.95"/>
<line x1="210.79" y1="473.6" x2="210.79" y2="470.40000000000003" stroke="#222" stroke-width="0.95"/>
<line x1="221.10" y1="473.6" x2="221.10" y2="467.40000000000003" stroke="#222" stroke-width="1.1"/>
<line x1="231.41" y1="473.6" x2="231.41" y2="470.40000000000003" stroke="#222" stroke-width="0.95"/>
<line x1="241.72" y1="473.6" x2="241.72" y2="470.40000000000003" stroke="#222" stroke-width="0.95"/>
<line x1="252.03" y1="473.6" x2="252.03" y2="470.40000000000003" stroke="#222" stroke-width="0.95"/>
<line x1="262.34" y1="473.6" x2="262.34" y2="470.40000000000003" stroke="#222" stroke-width="0.95"/>
<line x1="272.65" y1="473.6" x2="272.65" y2="467.40000000000003" stroke="#222" stroke-width="1.1"/>
<line x1="282.96" y1="473.6" x2="282.96" y2="470.40000000000003" stroke="#222" stroke-width="0.95"/>
<line x1="293.27" y1="473.6" x2="293.27" y2="470.40000000000003" stroke="#222" stroke-width="0.95"/>
<line x1="303.58" y1="473.6" x2="303.58" y2="470.40000000000003" stroke="#222" stroke-width="0.95"/>
<line x1="313.89" y1="473.6" x2="313.89" y2="470.40000000000003" stroke="#222" stroke-width="0.95"/>
<line x1="324.20" y1="473.6" x2="324.20" y2="467.40000000000003" stroke="#222" stroke-width="1.1"/>
<line x1="334.51" y1="473.6" x2="334.51" y2="470.40000000000003" stroke="#222" stroke-width="0.95"/>
<line x1="344.82" y1="473.6" x2="344.82" y2="470.40000000000003" stroke="#222" stroke-width="0.95"/>
<line x1="355.13" y1="473.6" x2="355.13" y2="470.40000000000003" stroke="#222" stroke-width="0.95"/>
<line x1="365.44" y1="473.6" x2="365.44" y2="470.40000000000003" stroke="#222" stroke-width="0.95"/>
<line x1="375.75" y1="473.6" x2="375.75" y2="467.40000000000003" stroke="#222" stroke-width="1.1"/>
<line x1="386.06" y1="473.6" x2="386.06" y2="470.40000000000003" stroke="#222" stroke-width="0.95"/>
<line x1="396.37" y1="473.6" x2="396.37" y2="470.40000000000003" stroke="#222" stroke-width="0.95"/>
<line x1="406.68" y1="473.6" x2="406.68" y2="470.40000000000003" stroke="#222" stroke-width="0.95"/>
<line x1="416.99" y1="473.6" x2="416.99" y2="470.40000000000003" stroke="#222" stroke-width="0.95"/>
<line x1="118.0" y1="242.57" x2="121.2" y2="242.57" stroke="#222" stroke-width="0.95"/>
<line x1="427.3" y1="242.57" x2="424.1" y2="242.57" stroke="#222" stroke-width="0.95"/>
<line x1="118.0" y1="228.95" x2="124.2" y2="228.95" stroke="#222" stroke-width="1.1"/>
<line x1="427.3" y1="228.95" x2="421.1" y2="228.95" stroke="#222" stroke-width="1.1"/>
<line x1="118.0" y1="215.32" x2="121.2" y2="215.32" stroke="#222" stroke-width="0.95"/>
<line x1="427.3" y1="215.32" x2="424.1" y2="215.32" stroke="#222" stroke-width="0.95"/>
<line x1="118.0" y1="201.70" x2="124.2" y2="201.70" stroke="#222" stroke-width="1.1"/>
<line x1="427.3" y1="201.70" x2="421.1" y2="201.70" stroke="#222" stroke-width="1.1"/>
<line x1="118.0" y1="188.07" x2="121.2" y2="188.07" stroke="#222" stroke-width="0.95"/>
<line x1="427.3" y1="188.07" x2="424.1" y2="188.07" stroke="#222" stroke-width="0.95"/>
<line x1="118.0" y1="174.45" x2="124.2" y2="174.45" stroke="#222" stroke-width="1.1"/>
<line x1="427.3" y1="174.45" x2="421.1" y2="174.45" stroke="#222" stroke-width="1.1"/>
<line x1="118.0" y1="160.82" x2="121.2" y2="160.82" stroke="#222" stroke-width="0.95"/>
<line x1="427.3" y1="160.82" x2="424.1" y2="160.82" stroke="#222" stroke-width="0.95"/>
<line x1="118.0" y1="352.30" x2="121.2" y2="352.30" stroke="#222" stroke-width="0.95"/>
<line x1="427.3" y1="352.30" x2="424.1" y2="352.30" stroke="#222" stroke-width="0.95"/>
<line x1="118.0" y1="340.30" x2="124.2" y2="340.30" stroke="#222" stroke-width="1.1"/>
<line x1="427.3" y1="340.30" x2="421.1" y2="340.30" stroke="#222" stroke-width="1.1"/>
<line x1="118.0" y1="328.30" x2="121.2" y2="328.30" stroke="#222" stroke-width="0.95"/>
<line x1="427.3" y1="328.30" x2="424.1" y2="328.30" stroke="#222" stroke-width="0.95"/>
<line x1="118.0" y1="316.30" x2="124.2" y2="316.30" stroke="#222" stroke-width="1.1"/>
<line x1="427.3" y1="316.30" x2="421.1" y2="316.30" stroke="#222" stroke-width="1.1"/>
<line x1="118.0" y1="304.30" x2="121.2" y2="304.30" stroke="#222" stroke-width="0.95"/>
<line x1="427.3" y1="304.30" x2="424.1" y2="304.30" stroke="#222" stroke-width="0.95"/>
<line x1="118.0" y1="292.30" x2="124.2" y2="292.30" stroke="#222" stroke-width="1.1"/>
<line x1="427.3" y1="292.30" x2="421.1" y2="292.30" stroke="#222" stroke-width="1.1"/>
<line x1="118.0" y1="280.30" x2="121.2" y2="280.30" stroke="#222" stroke-width="0.95"/>
<line x1="427.3" y1="280.30" x2="424.1" y2="280.30" stroke="#222" stroke-width="0.95"/>
<line x1="118.0" y1="268.30" x2="124.2" y2="268.30" stroke="#222" stroke-width="1.1"/>
<line x1="427.3" y1="268.30" x2="421.1" y2="268.30" stroke="#222" stroke-width="1.1"/>
<line x1="118.0" y1="465.84" x2="121.2" y2="465.84" stroke="#222" stroke-width="0.95"/>
<line x1="427.3" y1="465.84" x2="424.1" y2="465.84" stroke="#222" stroke-width="0.95"/>
<line x1="118.0" y1="458.08" x2="121.2" y2="458.08" stroke="#222" stroke-width="0.95"/>
<line x1="427.3" y1="458.08" x2="424.1" y2="458.08" stroke="#222" stroke-width="0.95"/>
<line x1="118.0" y1="450.32" x2="121.2" y2="450.32" stroke="#222" stroke-width="0.95"/>
<line x1="427.3" y1="450.32" x2="424.1" y2="450.32" stroke="#222" stroke-width="0.95"/>
<line x1="118.0" y1="442.56" x2="124.2" y2="442.56" stroke="#222" stroke-width="1.1"/>
<line x1="427.3" y1="442.56" x2="421.1" y2="442.56" stroke="#222" stroke-width="1.1"/>
<line x1="118.0" y1="434.80" x2="121.2" y2="434.80" stroke="#222" stroke-width="0.95"/>
<line x1="427.3" y1="434.80" x2="424.1" y2="434.80" stroke="#222" stroke-width="0.95"/>
<line x1="118.0" y1="427.04" x2="121.2" y2="427.04" stroke="#222" stroke-width="0.95"/>
<line x1="427.3" y1="427.04" x2="424.1" y2="427.04" stroke="#222" stroke-width="0.95"/>
<line x1="118.0" y1="419.28" x2="121.2" y2="419.28" stroke="#222" stroke-width="0.95"/>
<line x1="427.3" y1="419.28" x2="424.1" y2="419.28" stroke="#222" stroke-width="0.95"/>
<line x1="118.0" y1="411.52" x2="124.2" y2="411.52" stroke="#222" stroke-width="1.1"/>
<line x1="427.3" y1="411.52" x2="421.1" y2="411.52" stroke="#222" stroke-width="1.1"/>
<line x1="118.0" y1="403.76" x2="121.2" y2="403.76" stroke="#222" stroke-width="0.95"/>
<line x1="427.3" y1="403.76" x2="424.1" y2="403.76" stroke="#222" stroke-width="0.95"/>
<line x1="118.0" y1="396.00" x2="121.2" y2="396.00" stroke="#222" stroke-width="0.95"/>
<line x1="427.3" y1="396.00" x2="424.1" y2="396.00" stroke="#222" stroke-width="0.95"/>
<line x1="118.0" y1="388.24" x2="121.2" y2="388.24" stroke="#222" stroke-width="0.95"/>
<line x1="427.3" y1="388.24" x2="424.1" y2="388.24" stroke="#222" stroke-width="0.95"/>
<line x1="118.0" y1="380.48" x2="124.2" y2="380.48" stroke="#222" stroke-width="1.1"/>
<line x1="427.3" y1="380.48" x2="421.1" y2="380.48" stroke="#222" stroke-width="1.1"/>
<line x1="118.0" y1="372.72" x2="121.2" y2="372.72" stroke="#222" stroke-width="0.95"/>
<line x1="427.3" y1="372.72" x2="424.1" y2="372.72" stroke="#222" stroke-width="0.95"/>
<rect x="118.0" y="147.2" width="141.10000000000002" height="21.100000000000023" fill="#fff"/>
<polyline points="259.1,147.2 259.1,168.3 118.0,168.3" fill="none" stroke="#6a6a6a" stroke-width="0.85"/>
<line x1="120.3" y1="158.5" x2="154.6" y2="158.5" stroke="#666" stroke-width="0.8"/>
<text x="163.2" y="163.7" font-size="14">NII at 395.5nm</text>
<rect x="118.0" y="256.2" width="136.8" height="20.900000000000034" fill="#fff"/>
<polyline points="254.8,256.2 254.8,277.1 118.0,277.1" fill="none" stroke="#6a6a6a" stroke-width="0.85"/>
<line x1="120.3" y1="266.3" x2="154.6" y2="266.3" stroke="#666" stroke-width="0.8"/>
<text x="159.3" y="271.5" font-size="14">WI at 400.9nm</text>
<rect x="118.0" y="364.3" width="139.0" height="26.5" fill="#fff"/>
<polyline points="257.0,364.3 257.0,390.8 118.0,390.8" fill="none" stroke="#6a6a6a" stroke-width="0.85"/>
<line x1="120.3" y1="377.4" x2="154.6" y2="377.4" stroke="#666" stroke-width="0.8"/>
<text x="159.8" y="382.59999999999997" font-size="14">D<tspan x="169.2" dy="4.4" font-size="11.5">ε</tspan><tspan x="179.4" dy="-4.4">at 397.0nm</tspan></text>
<text x="359.4" y="168.3" font-size="11">JPN #82753</text>
<line x1="118.0" y1="147.5" x2="427.3" y2="147.5" stroke="#1a1a1a" stroke-width="1.15"/>
<line x1="118.0" y1="256.2" x2="427.3" y2="256.2" stroke="#1a1a1a" stroke-width="1.15"/>
<line x1="118.0" y1="364.3" x2="427.3" y2="364.3" stroke="#1a1a1a" stroke-width="1.15"/>
<line x1="117.4" y1="473.6" x2="427.90000000000003" y2="473.6" stroke="#222" stroke-width="1.4"/>
<line x1="118.0" y1="147.0" x2="118.0" y2="474.1" stroke="#1a1a1a" stroke-width="1.2"/>
<line x1="427.3" y1="147.0" x2="427.3" y2="474.1" stroke="#1a1a1a" stroke-width="1.2"/>
<text x="110.8" y="152.9" font-size="13.2" text-anchor="end">2.0x10<tspan dy="-5.4" font-size="8.2">18</tspan></text>
<text x="110.8" y="179.5" font-size="13.2" text-anchor="end">1.5x10<tspan dy="-5.4" font-size="8.2">18</tspan></text>
<text x="110.8" y="206.70000000000002" font-size="13.2" text-anchor="end">1.0x10<tspan dy="-5.4" font-size="8.2">18</tspan></text>
<text x="110.8" y="234.0" font-size="13.2" text-anchor="end">5.0x10<tspan dy="-5.4" font-size="8.2">17</tspan></text>
<text x="110.8" y="259.7" font-size="13" text-anchor="end">0.0</text>
<text x="110.8" y="273.90000000000003" font-size="13.2" text-anchor="end">4.0x10<tspan dy="-5.4" font-size="8.2">17</tspan></text>
<text x="110.8" y="297.7" font-size="13.2" text-anchor="end">3.0x10<tspan dy="-5.4" font-size="8.2">17</tspan></text>
<text x="110.8" y="321.7" font-size="13.2" text-anchor="end">2.0x10<tspan dy="-5.4" font-size="8.2">17</tspan></text>
<text x="110.8" y="345.7" font-size="13.2" text-anchor="end">1.0x10<tspan dy="-5.4" font-size="8.2">17</tspan></text>
<text x="110.8" y="368.5" font-size="13" text-anchor="end">0</text>
<text x="110.8" y="384.7" font-size="13.2" text-anchor="end">1.2x10<tspan dy="-5.4" font-size="8.2">19</tspan></text>
<text x="110.8" y="415.8" font-size="13.2" text-anchor="end">8.0x10<tspan dy="-5.4" font-size="8.2">18</tspan></text>
<text x="110.8" y="446.90000000000003" font-size="13.2" text-anchor="end">4.0x10<tspan dy="-5.4" font-size="8.2">18</tspan></text>
<text x="110.8" y="477.90000000000003" font-size="13" text-anchor="end">0.0</text>
<text x="118.3" y="490.5" font-size="12.4" text-anchor="middle">13</text>
<text x="169.9" y="490.5" font-size="12.4" text-anchor="middle">14</text>
<text x="221.4" y="490.5" font-size="12.4" text-anchor="middle">15</text>
<text x="272.9" y="490.5" font-size="12.4" text-anchor="middle">16</text>
<text x="324.5" y="490.5" font-size="12.4" text-anchor="middle">17</text>
<text x="376.1" y="490.5" font-size="12.4" text-anchor="middle">18</text>
<text x="427.6" y="490.5" font-size="12.4" text-anchor="middle">19</text>
<text x="267.2" y="506.8" font-size="12.5" font-weight="bold" text-anchor="middle">time [s]</text>
<text transform="translate(19.2,316.2) rotate(-90)" font-size="12.5" font-weight="bold" text-anchor="middle">photon flux denisty</text>
<text transform="translate(36.1,315.4) rotate(-90)" font-size="12.5" font-weight="bold" text-anchor="middle">[ph s<tspan dy="-4.8" font-size="8">-1</tspan><tspan dy="4.8">m</tspan><tspan dy="-4.8" font-size="8">-2</tspan><tspan dy="4.8">sr</tspan><tspan dy="-4.8" font-size="8">-1</tspan><tspan dy="4.8">]</tspan></text>
</svg>
</body></html>
